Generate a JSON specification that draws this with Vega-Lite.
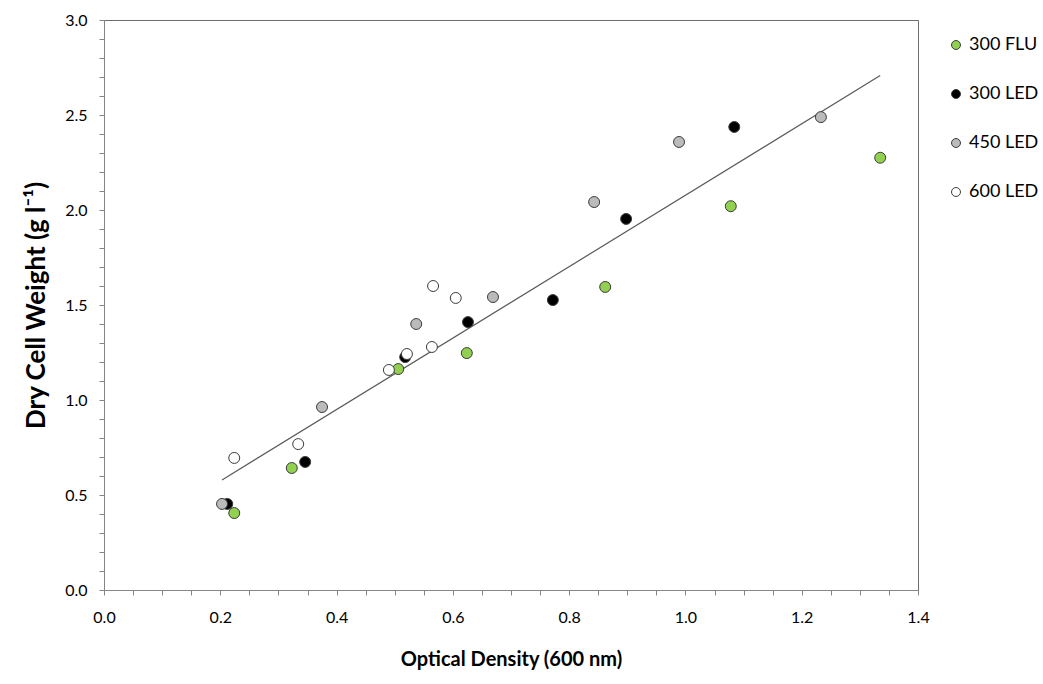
{
  "$schema": "https://vega.github.io/schema/vega-lite/v6.json",
  "autosize": "none",
  "width": 814,
  "height": 570,
  "padding": {"left": 104, "top": 20, "right": 125, "bottom": 94},
  "background": "white",
  "config": {
    "view": {"stroke": "#6e6e6e", "strokeWidth": 1},
    "font": "Lato"
  },
  "data": {
    "values": [
      {"series": "300 FLU", "od": 0.224, "dcw": 0.405},
      {"series": "300 FLU", "od": 0.323, "dcw": 0.642},
      {"series": "300 FLU", "od": 0.506, "dcw": 1.163},
      {"series": "300 FLU", "od": 0.624, "dcw": 1.247},
      {"series": "300 FLU", "od": 0.862, "dcw": 1.595},
      {"series": "300 FLU", "od": 1.078, "dcw": 2.02},
      {"series": "300 FLU", "od": 1.335, "dcw": 2.275},
      {"series": "300 LED", "od": 0.212, "dcw": 0.453},
      {"series": "300 LED", "od": 0.346, "dcw": 0.674},
      {"series": "300 LED", "od": 0.518, "dcw": 1.226},
      {"series": "300 LED", "od": 0.626, "dcw": 1.41},
      {"series": "300 LED", "od": 0.772, "dcw": 1.526},
      {"series": "300 LED", "od": 0.898, "dcw": 1.953},
      {"series": "300 LED", "od": 1.084, "dcw": 2.437},
      {"series": "450 LED", "od": 0.203, "dcw": 0.453},
      {"series": "450 LED", "od": 0.375, "dcw": 0.963},
      {"series": "450 LED", "od": 0.537, "dcw": 1.4},
      {"series": "450 LED", "od": 0.669, "dcw": 1.542},
      {"series": "450 LED", "od": 0.843, "dcw": 2.042},
      {"series": "450 LED", "od": 0.989, "dcw": 2.358},
      {"series": "450 LED", "od": 1.233, "dcw": 2.489},
      {"series": "600 LED", "od": 0.224, "dcw": 0.695},
      {"series": "600 LED", "od": 0.334, "dcw": 0.768},
      {"series": "600 LED", "od": 0.49, "dcw": 1.158},
      {"series": "600 LED", "od": 0.521, "dcw": 1.242},
      {"series": "600 LED", "od": 0.564, "dcw": 1.279},
      {"series": "600 LED", "od": 0.566, "dcw": 1.6},
      {"series": "600 LED", "od": 0.605, "dcw": 1.537}
    ]
  },
  "encoding": {
    "x": {
      "field": "od", "type": "quantitative",
      "scale": {"domain": [0, 1.4], "nice": false, "zero": false},
      "axis": {
        "title": "Optical Density (600 nm)",
        "values": [0,0.05,0.1,0.15,0.2,0.25,0.3,0.35,0.4,0.45,0.5,0.55,0.6,0.65,0.7,0.75,0.8,0.85,0.9,0.95,1.0,1.05,1.1,1.15,1.2,1.25,1.3,1.35,1.4],
        "labelExpr": "abs(datum.value*5 - round(datum.value*5)) < 0.001 ? format(datum.value, '.1f') : ''",
        "grid": false,
        "domainColor": "#868686",
        "tickColor": "#868686",
        "tickSize": 5,
        "labelFontSize": 16,
        "labelColor": "#000000",
        "labelPadding": 14,
        "labelFlush": false,
        "labelOverlap": false,
        "titleFontSize": 20,
        "titleFontWeight": "bold",
        "titleColor": "#000000",
        "titlePadding": 24
      }
    },
    "y": {
      "field": "dcw", "type": "quantitative",
      "scale": {"domain": [0, 3], "nice": false},
      "axis": {
        "title": "Dry Cell Weight (g l⁻¹)",
        "values": [0,0.1,0.2,0.3,0.4,0.5,0.6,0.7,0.8,0.9,1.0,1.1,1.2,1.3,1.4,1.5,1.6,1.7,1.8,1.9,2.0,2.1,2.2,2.3,2.4,2.5,2.6,2.7,2.8,2.9,3.0],
        "labelExpr": "abs(datum.value*2 - round(datum.value*2)) < 0.001 ? format(datum.value, '.1f') : ''",
        "grid": false,
        "domainColor": "#868686",
        "tickColor": "#868686",
        "tickSize": 5,
        "labelFontSize": 16,
        "labelColor": "#000000",
        "labelPadding": 12,
        "labelFlush": false,
        "labelOverlap": false,
        "titleFontSize": 26,
        "titleFontWeight": "bold",
        "titleColor": "#000000",
        "titlePadding": 15
      }
    }
  },
  "layer": [
    {
      "transform": [{"regression": "dcw", "on": "od"}],
      "mark": {"type": "line", "color": "#5a5a5a", "strokeWidth": 1.2}
    },
    {
      "mark": {"type": "point", "filled": true, "shape": "circle", "size": 120, "stroke": "#3c3c3c", "strokeWidth": 1, "opacity": 1},
      "encoding": {
        "fill": {
          "field": "series", "type": "nominal",
          "scale": {"domain": ["300 FLU", "300 LED", "450 LED", "600 LED"], "range": ["#92D050", "#000000", "#BBBBBB", "#FFFFFF"]},
          "legend": {
            "title": null,
            "orient": "none",
            "legendX": 843,
            "legendY": 16,
            "symbolType": "circle",
            "symbolSize": 80,
            "symbolStrokeColor": "#3c3c3c",
            "symbolStrokeWidth": 1,
            "labelFontSize": 18,
            "labelColor": "#000000",
            "labelOffset": 4,
            "rowPadding": 31
          }
        }
      }
    }
  ]
}
